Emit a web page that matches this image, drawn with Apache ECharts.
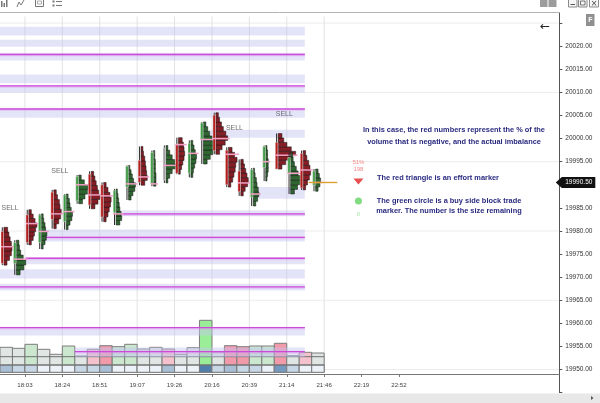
<!DOCTYPE html>
<html><head><meta charset="utf-8">
<script src="https://cdn.jsdelivr.net/npm/echarts@6/dist/echarts.min.js"></script>
<style>html,body{margin:0;padding:0;background:#fff;overflow:hidden}#c{width:600px;height:403px}</style>
</head><body><div id="c"></div>
<script>
// ---------- data ----------
const timeLabels = ['18:03','18:24','18:51','19:07','19:26','20:16','20:39','21:14','21:46','22:19','22:52'];
const timeTickSlots = [1.5,4.5,7.5,10.5,13.5,16.5,19.5,22.5,25.5,28.5,31.5];
const priceLabelMin = 19950, priceLabelMax = 20020;
const hGridPrices = [20025,20010,19995,19980,19965,19950];

const candleHigh  = [19980.8,19978.0,19984.6,19983.7,19988.9,19988.0,19992.1,19992.9,19990.5,19989.1,19994.2,19998.3,19997.4,19998.5,20000.2,19999.6,20003.6,20005.6,19998.1,19995.5,19993.6,19998.5,20001.1,19997.0,19997.4,19993.4];
const candleLow   = [19972.6,19970.5,19977.0,19976.1,19980.5,19980.3,19985.9,19984.8,19982.0,19981.3,19986.7,19989.9,19989.7,19990.4,19992.3,19991.6,19994.5,19996.6,19989.5,19987.6,19985.4,19990.8,19993.4,19988.0,19988.9,19988.6];
const candleOpen  = [19979.9,19973.0,19983.5,19977.5,19988.4,19982.0,19986.5,19992.3,19990.0,19984.0,19989.5,19995.3,19990.3,19991.0,19998.7,19992.5,19999.8,20005.1,19997.5,19993.0,19987.3,19993.7,19999.2,19992.3,19996.8,19989.9];
const candleClose = [19973.0,19977.5,19977.5,19983.5,19982.5,19987.8,19991.8,19985.6,19983.0,19988.8,19994.0,19990.5,19997.0,19998.0,19992.5,19999.0,20003.4,19997.4,19990.0,19988.5,19993.3,19998.3,19993.4,19995.9,19989.3,19993.0];
const bodyType    = ['r','g','r','g','r','g','g','r','r','g','g','r','g','n','r','g','g','r','r','r','g','g','r','g','r','g'];
const profileSide = ['s','b','s','b','s','b','b','s','s','b','b','s','b','b','s','b','b','s','s','s','b','b','s','b','s','b'];
const pocPrice    = [19976.6,19973.9,19981.6,19979.9,19983.7,19984.2,19990.0,19987.8,19987.6,19983.7,19990.2,19991.7,19990.2,19994.2,19998.7,19996.8,19999.8,20000.0,19996.6,19990.4,19988.0,19995.0,19996.4,19992.5,19993.2,19990.5];
// volume-at-price profile widths per candle, low -> high (fraction of a bar slot)
const profiles = [
  [0.25,0.45,0.6,0.65,0.6,0.5,0.4,0.3],
  [0.3,0.6,0.75,0.55,0.35,0.25,0.2],
  [0.2,0.35,0.45,0.55,0.65,0.5,0.35,0.2],
  [0.15,0.3,0.4,0.45,0.35,0.3,0.2,0.15],
  [0.2,0.4,0.55,0.6,0.5,0.45,0.3,0.2],
  [0.15,0.3,0.45,0.5,0.4,0.3,0.25,0.15],
  [0.3,0.5,0.7,0.75,0.45,0.2],
  [0.3,0.55,0.7,0.6,0.5,0.4,0.3,0.2],
  [0.2,0.35,0.45,0.55,0.6,0.5,0.35,0.2],
  [0.3,0.45,0.4,0.3,0.25,0.2,0.15,0.1],
  [0.2,0.35,0.5,0.55,0.4,0.3,0.2,0.1],
  [0.3,0.5,0.45,0.4,0.35,0.3,0.2,0.15],
  [0.2,0.2,0.2,0.15,0.15,0.15,0.1,0.1],
  [0.15,0.3,0.5,0.85,0.7,0.5,0.3,0.15],
  [0.15,0.25,0.35,0.45,0.5,0.45,0.4,0.3],
  [0.15,0.2,0.3,0.4,0.45,0.35,0.25,0.15],
  [0.3,0.55,0.75,0.9,0.85,0.7,0.5,0.35,0.2],
  [0.3,0.5,0.75,0.95,0.8,0.6,0.45,0.3,0.2],
  [0.2,0.35,0.45,0.55,0.6,0.7,0.5,0.3],
  [0.2,0.35,0.55,0.6,0.5,0.4,0.3,0.2],
  [0.2,0.35,0.45,0.4,0.3,0.25,0.15,0.1],
  [0.1,0.15,0.2,0.2,0.2,0.15,0.15,0.1],
  [0.3,0.6,1.0,1.4,1.05,0.7,0.45,0.3],
  [0.3,0.55,0.8,0.85,0.6,0.45,0.3,0.2,0.15],
  [0.2,0.35,0.5,0.6,0.55,0.45,0.3,0.2],
  [0.2,0.35,0.4,0.3,0.2]
];

const volumeTotal = [2500,2400,2800,2300,1800,2630,1630,2300,2660,2560,2800,2330,2500,2330,1800,2460,5200,2030,2660,2560,2630,2630,2900,1660,2000,1930];
const volumeTone  = ['n','n','lg','n','n','lg','n','lr','r','lg','lg','n','n','lr','n','n','g','n','r','r','lg','lg','r','n','lr','n'];
const stripShade  = [2,1,1,0,0,0,1,1,2,0,0,0,0,2,0,0,4,1,2,1,1,0,3,1,0,0];
const stripLevel  = 730;
const volumeRefLevels = [730,1560];

const bandFrom = [-0.5,-0.5,-0.5,-0.5,-0.5,-0.5,16.3,20.0,8.9,2.75,1.55,-0.5,-0.5,-0.5,5.5];
const bandLow  = [20022.3,20019.9,20016.9,20012.0,20009.9,20004.5,20000.2,19987.0,19983.2,19977.7,19972.8,19969.7,19967.1,19957.4,19952.7];
const bandHigh = [20024.2,20021.4,20018.6,20013.9,20011.6,20006.4,20001.9,19989.5,19984.5,19980.3,19974.1,19971.7,19968.6,19959.1,19954.8];
const levelFrom  = [-0.5,-0.5,-0.5,8.9,2.75,1.55,-0.5,-0.5,5.5];
const levelPrice = [20018.2,20011.4,20006.4,19983.7,19978.6,19974.1,19967.9,19959.1,19953.9];
const levelEnd = 23.95;

const sellSlots = [0,4,18,22];
const lastPrice = 19990.5;
const effortSlot = [28.25], effortPrice = [19990.7], effortPct = [51], effortImb = [198];
const blockSlot = [28.25], blockPrice = [19986.5], blockRemain = [8];

// ---------- chart ----------
const N = candleHigh.length;
const X_MIN = -0.5, X_MAX = 44.36;
const VIEW_TOP = 20026.4, VIEW_BOTTOM = 19949.4;
const toneColor = {n:'#e0e6e4', lg:'#cbe8cf', g:'#9aee98', lr:'#f4c2cc', r:'#f09aaa'};
const shadeColor = ['#edf2f8','#c7d7e6','#a9bfd5','#7399c0','#4f7eab'];
const bodyColor = {r:'#b51d1d', g:'#3f9a45', n:'#a0a0a0'};
const FONT = 'Liberation Sans, Arial, sans-serif';
const NOTE_FONT = 'bold 7.4px "Liberation Sans Narrow", "Liberation Sans", sans-serif';

function renderCandle(params, api){
  const i = params.dataIndex;
  const k = api.value(0);
  const left = api.coord([k - 0.5, candleLow[i]])[0];
  const unit = api.coord([k + 0.5, candleLow[i]])[0] - left;
  const yOf = p => api.coord([k, p])[1];
  const bodyX = left + 1, bodyW = 2.6, profX = bodyX + bodyW + 0.3;
  const prof = profiles[i], n = prof.length, step = (candleHigh[i] - candleLow[i]) / n;
  const buy = profileSide[i] === 'b';
  const children = [];
  let maxW = 0;
  prof.forEach((w, j) => {
    const yTop = yOf(candleLow[i] + (j + 1) * step), yBot = yOf(candleLow[i] + j * step);
    children.push({type:'rect', shape:{x:profX, y:yTop, width:w * unit, height:yBot - yTop},
      style:{fill: buy ? '#2e6630' : '#861c24', stroke:'#151515', lineWidth:0.5}});
    maxW = Math.max(maxW, w * unit);
  });
  children.push({type:'line', shape:{x1:bodyX + bodyW / 2, y1:yOf(candleHigh[i]), x2:bodyX + bodyW / 2, y2:yOf(candleLow[i])},
    style:{stroke:'#2a2a2a', lineWidth:1}});
  const yo = yOf(candleOpen[i]), yc = yOf(candleClose[i]);
  children.push({type:'rect', shape:{x:bodyX, y:Math.min(yo, yc), width:bodyW, height:Math.max(1, Math.abs(yo - yc))},
    style:{fill:bodyColor[bodyType[i]], stroke:'rgba(235,235,235,0.9)', lineWidth:0.5}});
  const yp = yOf(pocPrice[i]);
  children.push({type:'line', shape:{x1:bodyX, y1:yp, x2:profX + maxW + 2, y2:yp}, style:{stroke:'#f3a0c6', lineWidth:1.5}});
  return {type:'group', children};
}

function renderVolume(params, api){
  const i = params.dataIndex, k = api.value(0);
  const b0 = api.coord([k - 0.5, 0]), b1 = api.coord([k + 0.5, api.value(1)]);
  const s1 = api.coord([k + 0.5, stripLevel]);
  return {type:'group', children:[
    {type:'rect', shape:{x:b0[0], y:b1[1], width:b1[0] - b0[0], height:b0[1] - b1[1]},
      style:{fill:toneColor[volumeTone[i]], stroke:'#7c7c7c', lineWidth:1}},
    {type:'rect', shape:{x:b0[0], y:s1[1], width:b1[0] - b0[0], height:b0[1] - s1[1]},
      style:{fill:shadeColor[stripShade[i]], stroke:'#7c7c7c', lineWidth:1}}
  ]};
}

const centered = {align:'center', verticalAlign:'middle', textAlign:'center', textVerticalAlign:'middle'};
function note(x, y, text){
  return {type:'text', z:101, x, y, style:Object.assign({text, font:NOTE_FONT, fill:'#2a2a80'}, centered)};
}

const option = {
  animation:false,
  backgroundColor:'#ffffff',
  grid:[
    {left:-0.6, right:40.7, top:-3.97, bottom:10.33},
    {left:-0.6, right:40.7, top:300, bottom:30.7}
  ],
  xAxis:[
    {gridIndex:0, type:'value', min:X_MIN, max:X_MAX, show:false, axisLine:{onZero:false}},
    {gridIndex:1, type:'value', min:X_MIN, max:X_MAX, offset:1.7,
      axisLine:{show:true, onZero:false, lineStyle:{color:'#777', width:1}},
      axisTick:{show:true, customValues:timeTickSlots, length:3, lineStyle:{color:'#777'}},
      axisLabel:{show:true, customValues:timeTickSlots, fontSize:6.2, color:'#444', margin:8, fontFamily:FONT,
        formatter:v => { const j = timeTickSlots.findIndex(t => Math.abs(t - v) < 1e-6); return j >= 0 ? timeLabels[j] : ''; }},
      splitLine:{show:false}}
  ],
  yAxis:[
    {gridIndex:0, type:'value', position:'right', min:19945, max:20030, interval:5,
      axisLine:{show:true, onZero:false, lineStyle:{color:'#555'}},
      axisTick:{show:true, length:3, lineStyle:{color:'#555'}},
      axisLabel:{fontSize:6.5, color:'#333', margin:6, fontFamily:FONT,
        formatter:v => (v >= priceLabelMin && v <= priceLabelMax) ? v.toFixed(2) : ''},
      splitLine:{show:false}},
    {gridIndex:1, type:'value', min:0, max:7230, show:false, axisLine:{onZero:false}}
  ],
  series:[
    {type:'custom', name:'hgrid', xAxisIndex:0, yAxisIndex:0, silent:true, z:0,
      data:hGridPrices.map(p => [p]),
      renderItem:(params, api) => {
        const a = api.coord([X_MIN, api.value(0)]), b = api.coord([X_MAX, api.value(0)]);
        return {type:'line', shape:{x1:a[0], y1:a[1], x2:b[0], y2:b[1]}, style:{stroke:'#ececec', lineWidth:1}};
      }},
    {type:'custom', name:'vgrid', xAxisIndex:0, yAxisIndex:0, silent:true, z:0,
      data:timeTickSlots.filter(s => s < N).map(s => [s]),
      renderItem:(params, api) => {
        const a = api.coord([api.value(0), VIEW_TOP]), b = api.coord([api.value(0), VIEW_BOTTOM]);
        return {type:'line', shape:{x1:a[0], y1:a[1], x2:b[0], y2:b[1]}, style:{stroke:'#e2e2e2', lineWidth:1}};
      }},
    {type:'custom', name:'volume', xAxisIndex:1, yAxisIndex:1, silent:true, z:1,
      data:volumeTotal.map((v, k) => [k, v]), encode:{x:0, y:1}, renderItem:renderVolume},
    {type:'custom', name:'volref', xAxisIndex:1, yAxisIndex:1, silent:true, z:1,
      data:volumeRefLevels.map(v => [v]),
      renderItem:(params, api) => {
        const a = api.coord([-0.5, api.value(0)]), b = api.coord([N - 0.5, api.value(0)]);
        return {type:'line', shape:{x1:a[0], y1:a[1], x2:b[0], y2:b[1]}, style:{stroke:'#6f6f6f', lineWidth:1}};
      }},
    {type:'custom', name:'bands', xAxisIndex:0, yAxisIndex:0, silent:true, z:2,
      data:bandLow.map((lo, j) => [bandFrom[j], levelEnd, lo, bandHigh[j]]),
      encode:{x:[0,1], y:[2,3]},
      renderItem:(params, api) => {
        const a = api.coord([api.value(0), api.value(3)]), b = api.coord([api.value(1), api.value(2)]);
        return {type:'rect', shape:{x:a[0], y:a[1], width:b[0] - a[0], height:b[1] - a[1]}, style:{fill:'rgba(196,196,242,0.45)'}};
      }},
    {type:'custom', name:'levels', xAxisIndex:0, yAxisIndex:0, silent:true, z:2,
      data:levelPrice.map((p, j) => [levelFrom[j], levelEnd, p]),
      encode:{x:[0,1], y:2},
      renderItem:(params, api) => {
        const a = api.coord([api.value(0), api.value(2)]), b = api.coord([api.value(1), api.value(2)]);
        return {type:'group', children:[
          {type:'line', shape:{x1:a[0], y1:a[1] + 0.6, x2:b[0], y2:b[1] + 0.6}, style:{stroke:'rgba(225,140,235,0.3)', lineWidth:3}},
          {type:'line', shape:{x1:a[0], y1:a[1], x2:b[0], y2:b[1]}, style:{stroke:'#cc4ad8', lineWidth:1.3}}
        ]};
      }},
    {type:'custom', name:'footprint', xAxisIndex:0, yAxisIndex:0, silent:true, z:3,
      data:candleHigh.map((h, k) => [k, candleOpen[k], candleClose[k], candleLow[k], h]),
      encode:{x:0, y:[1,2,3,4]}, renderItem:renderCandle},
    {type:'custom', name:'lastline', xAxisIndex:0, yAxisIndex:0, silent:true, z:4,
      data:[[N - 1 - 0.75, N - 1 + 1.55, lastPrice]], encode:{x:[0,1], y:2},
      renderItem:(params, api) => {
        const a = api.coord([api.value(0), api.value(2)]), b = api.coord([api.value(1), api.value(2)]);
        return {type:'line', shape:{x1:a[0], y1:a[1], x2:b[0], y2:b[1]}, style:{stroke:'#dda030', lineWidth:1.4}};
      }},
    {type:'custom', name:'pricetag', xAxisIndex:0, yAxisIndex:0, silent:true, z:10, clip:false,
      data:[[lastPrice]],
      renderItem:(params, api) => {
        const y = api.coord([0, api.value(0)])[1];
        const xr = params.coordSys.x + params.coordSys.width;
        return {type:'group', children:[
          {type:'polygon', shape:{points:[[xr - 3.5, y], [xr + 2.5, y - 5.5], [xr + 36, y - 5.5], [xr + 36, y + 5.5], [xr + 2.5, y + 5.5]]}, style:{fill:'#111'}},
          {type:'text', style:Object.assign({text:api.value(0).toFixed(2), x:xr + 19.5, y:y, fill:'#fff', font:'6.5px ' + FONT}, centered)}
        ]};
      }},
    {type:'scatter', name:'sell', xAxisIndex:0, yAxisIndex:0, silent:true, z:5,
      symbol:'circle', symbolSize:1, itemStyle:{color:'rgba(0,0,0,0)'},
      data:sellSlots.map(k => [k, candleHigh[k]]),
      label:{show:true, position:'top', distance:15, offset:[3.8, 0], formatter:'SELL', fontSize:7, color:'#4a4a4a', fontFamily:FONT}},
    {type:'scatter', name:'effort', xAxisIndex:0, yAxisIndex:0, silent:true, z:5,
      symbol:'triangle', symbolRotate:180, symbolSize:[10, 6], itemStyle:{color:'#e02424'},
      data:effortSlot.map((s, j) => [s, effortPrice[j]]),
      label:{show:true, position:'top', distance:5, fontSize:6, lineHeight:7.5, color:'#f06a6a', fontFamily:FONT,
        formatter:p => effortPct[p.dataIndex] + '%\n' + effortImb[p.dataIndex]}},
    {type:'scatter', name:'block', xAxisIndex:0, yAxisIndex:0, silent:true, z:5,
      symbol:'circle', symbolSize:7, itemStyle:{color:'#62d262'},
      data:blockSlot.map((s, j) => [s, blockPrice[j]]),
      label:{show:true, position:'bottom', distance:7, fontSize:6, color:'#9ee09e', fontFamily:FONT,
        formatter:p => String(blockRemain[p.dataIndex])}}
  ],
  graphic:[
    {type:'rect', z:100, shape:{x:0, y:0, width:600, height:12.5}, style:{fill:'#ffffff'}},
    {type:'line', z:101, shape:{x1:0, y1:12.5, x2:559.3, y2:12.5}, style:{stroke:'#b4b4b4', lineWidth:1}},
    {type:'rect', z:101, shape:{x:1, y:1, width:1.5, height:6}, style:{fill:'#777'}},
    {type:'rect', z:101, shape:{x:3.5, y:3, width:1.5, height:4}, style:{fill:'#777'}},
    {type:'rect', z:101, shape:{x:6, y:0, width:1.5, height:7}, style:{fill:'#777'}},
    {type:'polyline', z:101, shape:{points:[[17,7],[19,2],[21,5],[24,0]]}, style:{stroke:'#777', lineWidth:1, fill:null}},
    {type:'rect', z:101, shape:{x:35.5, y:-1, width:8, height:7.5}, style:{stroke:'#777', fill:'none', lineWidth:1}},
    {type:'rect', z:101, shape:{x:37.5, y:1, width:4, height:3}, style:{stroke:'#999', fill:'none', lineWidth:0.8}},
    {type:'rect', z:101, shape:{x:52.5, y:0.5, width:2, height:2}, style:{fill:'#777'}},
    {type:'rect', z:101, shape:{x:52.5, y:4.5, width:2, height:2}, style:{fill:'#777'}},
    {type:'line', z:101, shape:{x1:56, y1:1.5, x2:62, y2:1.5}, style:{stroke:'#777'}},
    {type:'line', z:101, shape:{x1:56, y1:5.5, x2:62, y2:5.5}, style:{stroke:'#777'}},
    {type:'rect', z:101, shape:{x:540, y:0, width:7.5, height:7}, style:{fill:'#9c9c9c'}},
    {type:'rect', z:101, shape:{x:548.5, y:0, width:8, height:7}, style:{fill:'#9c9c9c'}},
    {type:'rect', z:101, shape:{x:568.5, y:-1, width:8.5, height:8}, style:{fill:'#f6f6f6', stroke:'#8a8a8a'}},
    {type:'line', z:102, shape:{x1:570.5, y1:4.5, x2:575, y2:4.5}, style:{stroke:'#555'}},
    {type:'rect', z:101, shape:{x:578.5, y:-1, width:8.5, height:8}, style:{fill:'#f6f6f6', stroke:'#8a8a8a'}},
    {type:'rect', z:102, shape:{x:580.5, y:1, width:4.5, height:4}, style:{fill:'none', stroke:'#555', lineWidth:0.8}},
    {type:'rect', z:101, shape:{x:589.5, y:-1, width:9, height:8}, style:{fill:'#f6f6f6', stroke:'#8a8a8a'}},
    {type:'text', z:102, x:594, y:3.5, style:Object.assign({text:'×', font:'8px DejaVu Sans', fill:'#444'}, centered)},
    {type:'rect', z:101, shape:{x:586, y:14, width:8.5, height:12}, style:{fill:'#8f8f8f'}},
    {type:'text', z:102, x:590.3, y:20, style:Object.assign({text:'F', font:'bold 7px ' + FONT, fill:'#ffffff'}, centered)},
    {type:'text', z:101, x:545, y:27, style:Object.assign({text:'←', font:'12px DejaVu Sans', fill:'#222'}, centered)},
    note(454, 130, 'In this case, the red numbers represent the % of the'),
    note(454, 141.7, 'volume that is negative, and the actual imbalance'),
    note(438, 177.5, 'The red triangle is an effort marker'),
    note(449, 201, 'The green circle is a buy side block trade'),
    note(449, 210.5, 'marker. The number is the size remaining'),
    {type:'rect', z:100, shape:{x:0, y:393.5, width:600, height:9.5}, style:{fill:'#e8e8e8'}},
    {type:'polygon', z:101, shape:{points:[[591,396],[591,400],[593.5,398]]}, style:{fill:'#555'}}
  ]
};
const chart = echarts.init(document.getElementById('c'));
chart.setOption(option);
</script>
</body></html>
